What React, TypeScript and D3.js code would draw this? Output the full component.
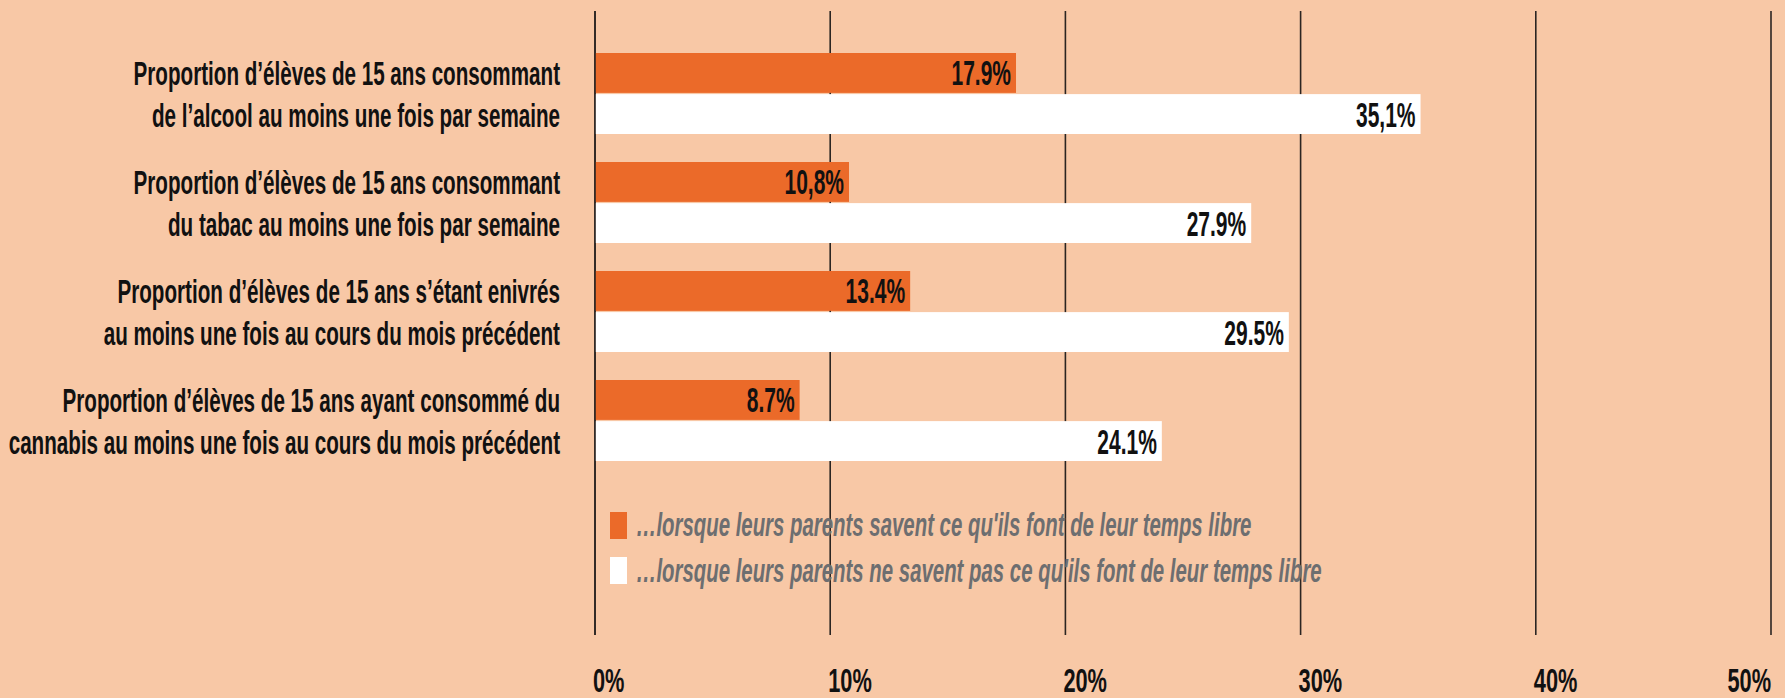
import React from "react";
import * as d3 from "d3";

// ---------- data ----------
const categories = ["alcool", "tabac", "ivresse", "cannabis"];
const categoryLines = [
  ["Proportion d’élèves de 15 ans consommant", "de l’alcool au moins une fois par semaine"],
  ["Proportion d’élèves de 15 ans consommant", "du tabac au moins une fois par semaine"],
  ["Proportion d’élèves de 15 ans s’étant enivrés", "au moins une fois au cours du mois précédent"],
  ["Proportion d’élèves de 15 ans ayant consommé du", "cannabis au moins une fois au cours du mois précédent"],
];
const seriesKeys = ["savent", "neSaventPas"];
const valuesSavent = [17.9, 10.8, 13.4, 8.7];
const valuesNeSaventPas = [35.1, 27.9, 29.5, 24.1];
const labelsSavent = ["17.9%", "10,8%", "13.4%", "8.7%"];
const labelsNeSaventPas = ["35,1%", "27.9%", "29.5%", "24.1%"];
const legendLabels = [
  "…lorsque leurs parents savent ce qu'ils font de leur temps libre",
  "…lorsque leurs parents ne savent pas ce qu'ils font de leur temps libre",
];
const tickValues = [0, 10, 20, 30, 40, 50];
const tickLabels = ["0%", "10%", "20%", "30%", "40%", "50%"];

// ---------- style / layout ----------
const W = 1785;
const H = 698;
const BG = "#f8c8a6";
const ORANGE = "#eb6a29";
const WHITE = "#ffffff";
const GRID = "#2b2522";
const LEGEND_TEXT = "#6d6e70";
const FONT = "'Liberation Sans', Arial, sans-serif";
const seriesColors = [ORANGE, WHITE];

function SText(props: {
  x: number;
  y: number;
  sx: number;
  size: number;
  anchor?: string;
  fill?: string;
  weight?: string | number;
  italic?: boolean;
  children: React.ReactNode;
}) {
  const { x, y, sx, size, anchor = "start", fill = "#111", weight = "bold", italic, children } = props;
  return (
    <text
      transform={`translate(${x},${y}) scale(${sx},1)`}
      textAnchor={anchor}
      fontFamily={FONT}
      fontSize={size}
      fontWeight={weight}
      fontStyle={italic ? "italic" : "normal"}
      fill={fill}
    >
      {children}
    </text>
  );
}

export default function App() {
  const x = d3.scaleLinear().domain([0, 50]).range([595, 1771]);
  const y = d3.scaleBand<string>().domain(categories).range([53, 461]).paddingInner(28 / 109).paddingOuter(0);
  const inner = d3.scaleBand<string>().domain(seriesKeys).range([0, y.bandwidth()]).paddingInner(0.03);

  const seriesValues = [valuesSavent, valuesNeSaventPas];
  const seriesLabels = [labelsSavent, labelsNeSaventPas];

  const gridTop = 11;
  const gridBottom = 635;

  return (
    <svg
      width={W}
      height={H}
      style={{ position: "absolute", left: 0, top: 0, display: "block" }}
    >
      <rect x={0} y={0} width={W} height={H} fill={BG} />

      {/* grid lines */}
      {tickValues.map((v) => (
        <line key={"g" + v} x1={x(v)} x2={x(v)} y1={gridTop} y2={gridBottom} stroke={GRID} strokeWidth={1.6} />
      ))}

      {/* bars */}
      {categories.map((c, i) => (
        <g key={c} transform={`translate(0,${y(c)})`}>
          {seriesKeys.map((s, j) => {
            const v = seriesValues[j][i];
            const by = inner(s) as number;
            const bh = inner.bandwidth();
            return (
              <g key={s}>
                <rect x={x(0)} y={by} width={x(v) - x(0)} height={bh} fill={seriesColors[j]} />
                <SText x={x(v) - 5} y={by + bh / 2 + 12.5} sx={0.6} size={35} anchor="end">
                  {seriesLabels[j][i]}
                </SText>
              </g>
            );
          })}
        </g>
      ))}

      {/* zero line on top */}
      <line x1={x(0)} x2={x(0)} y1={gridTop} y2={gridBottom} stroke={GRID} strokeWidth={1.6} />

      {/* category labels */}
      {categories.map((c, i) => (
        <g key={"l" + c}>
          {categoryLines[i].map((line, k) => {
            const s = seriesKeys[k];
            const cy = (y(c) as number) + (inner(s) as number) + inner.bandwidth() / 2;
            return (
              <SText key={k} x={560} y={cy + 12.5} sx={0.607} size={34} anchor="end">
                {line}
              </SText>
            );
          })}
        </g>
      ))}

      {/* legend */}
      {legendLabels.map((lab, j) => (
        <g key={"leg" + j}>
          <rect x={610} y={512 + j * 45} width={17} height={27} fill={seriesColors[j]} />
          <SText x={636} y={536 + j * 46} sx={0.6} size={34} anchor="start" fill={LEGEND_TEXT} italic>
            {lab}
          </SText>
        </g>
      ))}

      {/* axis tick labels */}
      {tickValues.map((v, i) => (
        <SText
          key={"t" + v}
          x={i === tickValues.length - 1 ? x(v) : x(v) - 2}
          y={692}
          sx={0.66}
          size={33}
          anchor={i === tickValues.length - 1 ? "end" : "start"}
        >
          {tickLabels[i]}
        </SText>
      ))}
    </svg>
  );
}
